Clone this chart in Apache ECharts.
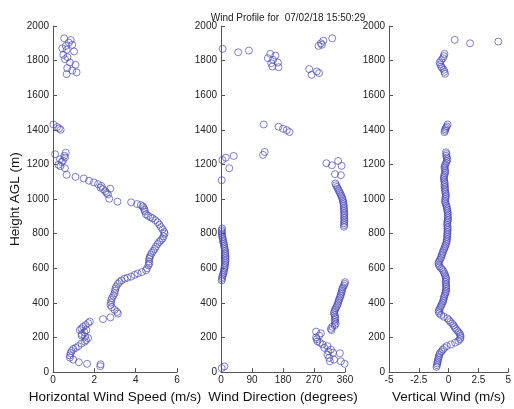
<!DOCTYPE html>
<html>
<head>
<meta charset="utf-8">
<script src="https://cdn.jsdelivr.net/npm/echarts@6/dist/echarts.min.js"></script>
<style>
  html, body { margin: 0; padding: 0; background: #fff; }
  #chart { width: 514px; height: 409px; }
</style>
</head>
<body>
<div id="chart"></div>
<script>
// [value, height AGL (m)]
const speedPoints = [
  [0.54, 1929], [0.86, 1919], [0.77, 1904], [0.93, 1891], [0.62, 1885], [0.45, 1871], [0.66, 1862],
  [1.02, 1853], [0.5, 1833], [0.7, 1820], [0.58, 1808], [0.82, 1789], [1.09, 1776], [0.69, 1757],
  [0.93, 1743], [1.14, 1732], [0.66, 1722],
  [0.02, 1431], [0.2, 1416], [0.3, 1408], [0.37, 1400],
  [0.1, 1259], [0.62, 1268], [0.55, 1250], [0.58, 1240], [0.34, 1230], [0.48, 1222], [0.42, 1214],
  [0.26, 1198], [0.36, 1190], [0.58, 1178], [0.66, 1140],
  [1.09, 1128], [1.49, 1119], [1.74, 1106], [1.98, 1096], [2.18, 1086], [2.34, 1076], [2.3, 1066],
  [2.42, 1057], [2.53, 1045], [2.6, 1035], [2.66, 1027], [2.77, 1060], [2.72, 1002], [3.12, 985],
  [3.78, 981], [4.07, 971], [4.25, 965], [4.34, 958], [4.4, 948], [4.42, 938], [4.45, 928],
  [4.5, 912], [4.6, 903], [4.72, 895], [4.82, 889], [4.95, 878], [5.06, 866], [5.15, 852],
  [5.22, 838], [5.3, 825], [5.38, 810], [5.4, 800], [5.35, 785], [5.3, 772], [5.22, 762],
  [5.14, 752], [5.06, 740], [4.98, 725], [4.92, 712], [4.85, 700], [4.78, 688], [4.72, 676],
  [4.68, 664], [4.66, 655], [4.64, 640], [4.66, 628], [4.62, 617], [4.55, 600], [4.5, 588],
  [4.3, 578], [4.1, 570], [3.95, 562], [3.78, 552], [3.6, 545], [3.46, 540], [3.32, 530],
  [3.22, 521], [3.14, 510], [3.06, 495], [3.02, 482], [3.0, 470], [2.98, 456], [2.92, 442],
  [2.86, 428], [2.82, 416], [2.8, 402], [2.78, 388], [2.85, 375], [2.98, 360], [3.1, 348],
  [3.14, 338], [2.78, 316], [2.42, 306], [1.78, 292], [1.7, 283], [1.58, 272], [1.46, 262],
  [1.38, 252], [1.3, 243], [1.62, 243], [1.52, 230], [1.4, 220], [1.38, 212], [1.55, 205],
  [1.7, 196], [1.6, 185], [1.54, 176], [1.38, 165], [1.22, 150], [1.1, 140], [0.98, 134],
  [0.9, 122], [0.85, 110], [0.82, 96], [0.82, 84], [0.98, 72], [1.25, 57], [1.65, 48],
  [2.29, 34], [2.3, 45]
];

const directionPoints = [
  [4.8, 1868], [50, 1848], [81, 1858], [143, 1839], [158, 1829], [136, 1814], [151, 1805],
  [146, 1785], [165, 1789], [149, 1766], [167, 1762], [256, 1751], [263, 1718], [278, 1737],
  [285, 1728], [283, 1885], [290, 1900], [297, 1915], [293, 1892], [323, 1929],
  [124, 1431], [167, 1418], [180, 1406], [191, 1398], [199, 1387],
  [4, 1226], [14, 1239], [37, 1249], [24, 1178], [127, 1272], [122, 1255], [2, 1109],
  [306, 1207], [322, 1195], [340, 1220], [350, 1192], [331, 1144], [348, 1138],
  [332, 1090], [334, 1080], [337, 1070], [339, 1060], [342, 1050], [344, 1040], [347, 1030],
  [349, 1020], [351, 1010], [353, 1000], [354, 990], [355, 980], [356, 970], [356, 960],
  [357, 950], [357, 940], [357, 930], [358, 920], [358, 910], [357, 900], [358, 890],
  [358, 880], [358, 870], [357, 860], [358, 850], [357, 840],
  [3, 830], [2, 820], [2, 810], [3, 800], [3, 790], [4, 780], [5, 770], [6, 760], [7, 750],
  [8, 740], [9, 730], [10, 720], [11, 710], [12, 700], [12, 690], [12, 680], [13, 670],
  [13, 660], [13, 650], [13, 640], [12, 630], [12, 620], [11, 610], [10, 600], [9, 590],
  [8, 580], [7, 570], [5, 560], [4, 550], [3, 540], [2, 530],
  [360, 520], [359, 510], [357, 500], [354, 490], [352, 480], [351, 470], [350, 460],
  [348, 450], [347, 440], [345, 430], [343, 420], [341, 410], [340, 400], [338, 390],
  [336, 380], [333, 370], [331, 360], [329, 350], [328, 340], [330, 330], [331, 320],
  [332, 310], [330, 300], [331, 290], [333, 280], [330, 270], [323, 262], [319, 250], [321, 243],
  [276, 234], [290, 224], [285, 211], [276, 200], [278, 190], [280, 178], [287, 170],
  [295, 160], [309, 150], [300, 140], [319, 130], [312, 120], [325, 112], [345, 109],
  [309, 100], [314, 82], [328, 72], [348, 62], [316, 62], [359, 48],
  [2, 23], [10, 33]
];

const verticalPoints = [
  [0.51, 1920], [1.8, 1900], [4.17, 1910],
  [-0.35, 1839], [-0.4, 1826], [-0.48, 1814], [-0.62, 1802], [-0.75, 1789], [-0.7, 1778],
  [-0.62, 1766], [-0.55, 1757], [-0.4, 1747], [-0.35, 1735], [-0.3, 1724],
  [-0.08, 1431], [-0.15, 1420], [-0.22, 1412], [-0.28, 1404], [-0.3, 1395], [-0.35, 1387],
  [-0.22, 1270], [-0.18, 1260], [-0.2, 1250], [-0.15, 1240], [-0.1, 1230], [-0.15, 1220],
  [-0.2, 1210], [-0.28, 1200], [-0.32, 1190], [-0.35, 1180], [-0.3, 1170], [-0.28, 1160],
  [-0.3, 1150], [-0.35, 1140], [-0.38, 1130], [-0.4, 1120], [-0.38, 1110], [-0.35, 1100],
  [-0.32, 1090], [-0.35, 1080], [-0.3, 1070], [-0.32, 1060], [-0.3, 1050], [-0.28, 1040],
  [-0.25, 1030], [-0.22, 1020], [-0.25, 1010], [-0.28, 1000], [-0.3, 990], [-0.28, 980],
  [-0.22, 970], [-0.18, 960], [-0.15, 950], [-0.12, 940], [-0.1, 930], [-0.08, 920],
  [-0.05, 910], [-0.08, 900], [-0.05, 890], [-0.05, 880], [-0.1, 870], [-0.1, 860],
  [-0.12, 850], [-0.08, 840], [-0.1, 830], [-0.08, 820], [-0.1, 810], [-0.1, 800],
  [-0.12, 790], [-0.12, 780], [-0.14, 770], [-0.15, 760], [-0.18, 750], [-0.22, 740],
  [-0.28, 730], [-0.32, 720], [-0.38, 710], [-0.45, 700], [-0.5, 690], [-0.55, 680],
  [-0.6, 670], [-0.65, 660], [-0.72, 650], [-0.8, 640], [-0.85, 630], [-0.83, 620],
  [-0.75, 610], [-0.62, 600], [-0.5, 590], [-0.42, 580], [-0.35, 570], [-0.3, 560],
  [-0.25, 550], [-0.2, 540], [-0.22, 530], [-0.25, 520], [-0.22, 510], [-0.2, 500],
  [-0.22, 490], [-0.2, 480], [-0.22, 470], [-0.25, 460], [-0.3, 450], [-0.35, 440],
  [-0.4, 430], [-0.42, 420], [-0.46, 410], [-0.52, 400], [-0.6, 390], [-0.65, 380],
  [-0.72, 370], [-0.8, 360], [-0.83, 350], [-0.78, 340], [-0.62, 330], [-0.4, 320],
  [-0.1, 310], [0.02, 300], [0.15, 290], [0.3, 280], [0.42, 270], [0.5, 260], [0.6, 250],
  [0.72, 240], [0.85, 230], [0.95, 220], [1.0, 210], [1.0, 200], [0.95, 190], [0.82, 180],
  [0.55, 170], [0.2, 160], [-0.15, 150], [-0.35, 140], [-0.48, 130], [-0.6, 120],
  [-0.72, 110], [-0.78, 100], [-0.82, 90], [-0.85, 80], [-0.89, 70], [-0.92, 60],
  [-0.95, 50], [-0.98, 40], [-1.02, 30]
];

const heightTicks = { min: 0, max: 2000, interval: 200 };
const speedTicks = { min: 0, max: 6, interval: 2 };
const directionTicks = { min: 0, max: 360, interval: 90 };
const verticalTicks = { min: -5, max: 5, interval: 2.5 };

const font = 'Liberation Sans, Arial, sans-serif';
const axisColor = '#555';
const markerColor = '#4343b8';

const panels = [
  { left: 53, ticks: speedTicks, name: 'Horizontal Wind Speed (m/s)', data: speedPoints },
  { left: 221, ticks: directionTicks, name: 'Wind Direction (degrees)', data: directionPoints },
  { left: 389, ticks: verticalTicks, name: 'Vertical Wind (m/s)', data: verticalPoints }
];

const chart = echarts.init(document.getElementById('chart'), null, { renderer: 'canvas' });

chart.setOption({
  animation: false,
  title: {
    text: 'Wind Profile for  07/02/18 15:50:29',
    left: 283,
    textAlign: 'center',
    top: 8,
    textStyle: { fontFamily: font, fontSize: 10, fontWeight: 'normal', color: '#222' }
  },
  grid: panels.map((p) => ({ left: p.left, top: 26, width: 124, height: 348 })),
  xAxis: panels.map((p, i) => ({
    type: 'value',
    gridIndex: i,
    min: p.ticks.min,
    max: p.ticks.max,
    interval: p.ticks.interval,
    name: p.name,
    nameLocation: 'middle',
    nameGap: 11,
    nameTextStyle: { fontFamily: font, fontSize: 13.5, color: '#111' },
    splitLine: { show: false },
    axisLine: { onZero: false, lineStyle: { color: axisColor, width: 1 } },
    axisTick: { inside: true, length: 4, lineStyle: { color: axisColor } },
    axisLabel: {
      fontFamily: font, fontSize: 10, color: '#222', margin: 3,
      showMinLabel: true, showMaxLabel: true, hideOverlap: false,
      formatter: (v) => String(v)
    }
  })),
  yAxis: panels.map((p, i) => ({
    type: 'value',
    gridIndex: i,
    min: heightTicks.min,
    max: heightTicks.max,
    interval: heightTicks.interval,
    name: i === 0 ? 'Height AGL (m)' : '',
    nameLocation: 'middle',
    nameGap: 31,
    nameTextStyle: { fontFamily: font, fontSize: 13.5, color: '#111' },
    splitLine: { show: false },
    axisLine: { onZero: false, lineStyle: { color: axisColor, width: 1 } },
    axisTick: { inside: true, length: 4, lineStyle: { color: axisColor } },
    axisLabel: {
      fontFamily: font, fontSize: 10, color: '#222', margin: 4,
      formatter: (v) => String(v)
    }
  })),
  series: panels.map((p, i) => ({
    type: 'scatter',
    xAxisIndex: i,
    yAxisIndex: i,
    data: p.data,
    symbol: 'circle',
    symbolSize: 7,
    silent: true,
    itemStyle: { color: 'rgba(0,0,0,0)', borderColor: markerColor, borderWidth: 0.8, opacity: 0.85 }
  }))
});
</script>
</body>
</html>
